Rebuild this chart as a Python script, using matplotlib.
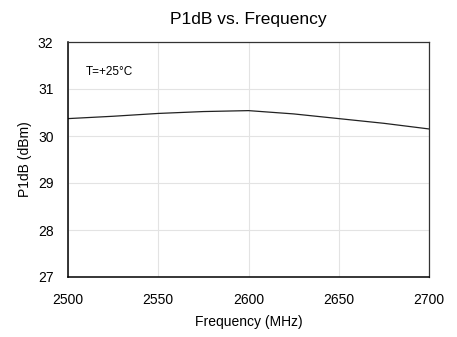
import matplotlib
matplotlib.use("Agg")
import matplotlib.pyplot as plt

# data
freq = [2500, 2525, 2550, 2575, 2600, 2625, 2650, 2675, 2700]
p1db = [30.37, 30.42, 30.48, 30.52, 30.54, 30.47, 30.37, 30.27, 30.15]
xticks = [2500, 2550, 2600, 2650, 2700]
yticks = [27, 28, 29, 30, 31, 32]

plt.rcParams['font.family'] = ['Liberation Sans', 'DejaVu Sans']

fig = plt.figure(figsize=(4.57, 3.37), dpi=100)
ax = fig.add_axes([68/457, 1-277/337, 361/457, 235/337])

ax.plot(freq, p1db, color="#222222", lw=0.9)
ax.set_xlim(2500, 2700)
ax.set_ylim(27, 32)
ax.set_xticks(xticks)
ax.set_yticks(yticks)
ax.grid(True, color="#e3e3e3", lw=0.8)
ax.tick_params(length=0, labelsize=10)
ax.tick_params(axis='x', pad=11.5)
ax.tick_params(axis='y', pad=10.5)
for s in ax.spines.values():
    s.set_color("#333333")
    s.set_linewidth(0.9)
ax.spines['left'].set_color("black")
ax.spines['bottom'].set_color("black")
ax.spines['left'].set_linewidth(1.1)
ax.spines['bottom'].set_linewidth(1.1)

ax.text(0.048, 0.86, "T=+25°C", transform=ax.transAxes, fontsize=8.5)
ax.set_title("P1dB vs. Frequency", fontsize=12.5, pad=13)
ax.set_xlabel("Frequency (MHz)", fontsize=10, labelpad=6)
ax.set_ylabel("P1dB (dBm)", fontsize=10, labelpad=4)

fig.savefig("out.png", dpi=100)
